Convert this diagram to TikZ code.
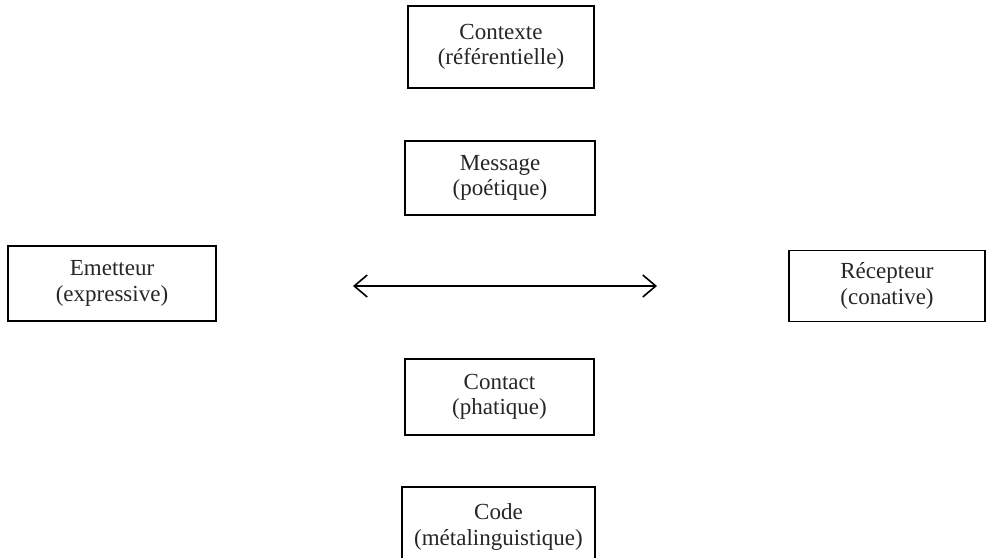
\documentclass[tikz,border=0pt]{standalone}
\usepackage{fontspec}
\setmainfont{Liberation Serif}
\usetikzlibrary{arrows.meta}
\begin{document}
\begin{tikzpicture}[x=1pt,y=-1pt,
  fbox/.style={draw=black, line width=1.8pt, fill=white, align=center, inner sep=0pt,
    font=\fontsize{23}{25.5}\selectfont, text=black!85},
  link/.style={line width=1.6pt, {Straight Barb[length=13pt,width=22pt,line width=1.6pt]}-{Straight Barb[length=13pt,width=22pt,line width=1.6pt]}}]
\fill[white] (0,0) rectangle (988,557);
\useasboundingbox (0,0) rectangle (988,557);
\clip (0,0) rectangle (988,557);
\node[fbox, minimum width=186pt, minimum height=82pt] (contexte) at (501,47) {Contexte\\(référentielle)};
\node[fbox, minimum width=190pt, minimum height=74pt] (message) at (500,178) {Message\\(poétique)};
\node[fbox, minimum width=208pt, minimum height=75pt] (emetteur) at (112,283.5) {Emetteur\\(expressive)};
\node[fbox, minimum width=196pt, minimum height=71pt] (recepteur) at (887,286) {Récepteur\\(conative)};
\node[fbox, minimum width=189pt, minimum height=76pt] (contact) at (499.5,397) {Contact\\(phatique)};
\node[fbox, minimum width=193pt, minimum height=80pt] (code) at (498.5,527) {Code\\(métalinguistique)};
\coordinate (aL) at (353,286);
\coordinate (aR) at (657,286);
\draw[link] (aL) -- (aR);
\end{tikzpicture}
\end{document}
